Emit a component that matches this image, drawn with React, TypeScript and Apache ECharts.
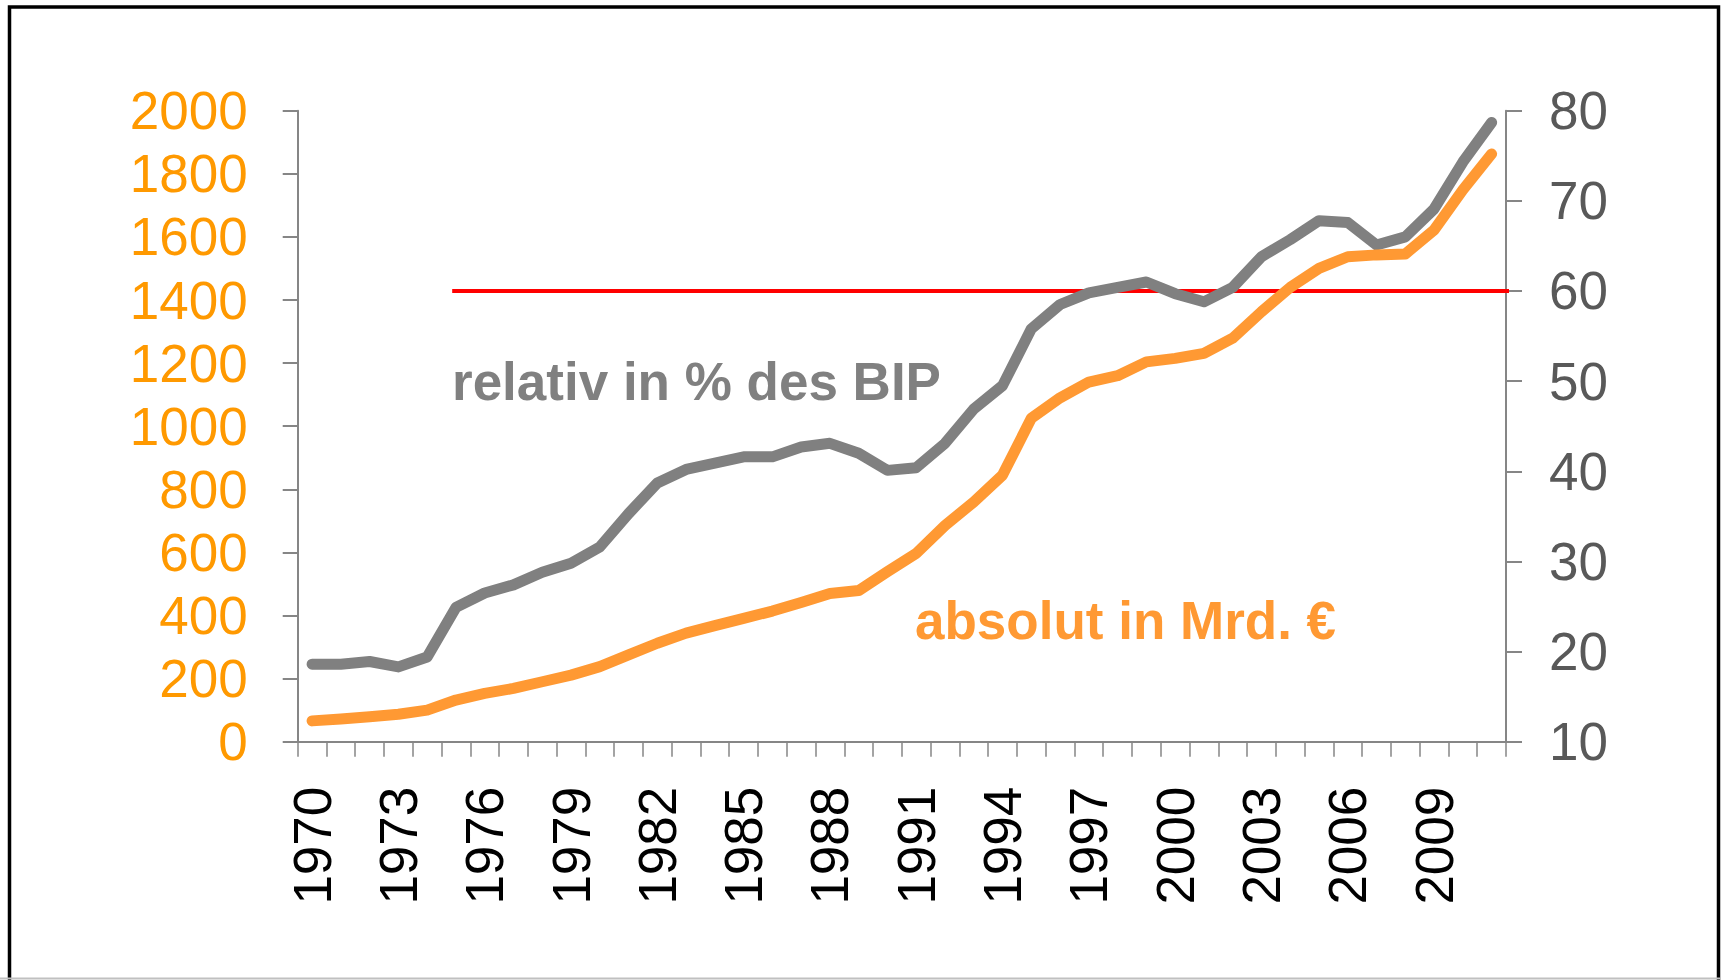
import React, { useEffect, useRef } from "react";
import * as echarts from "echarts";

const years: string[] = [];
for (let y = 1970; y <= 2011; y++) years.push(String(y));

const relativeValues = [
  18.6, 18.6, 18.9, 18.3, 19.4, 24.9, 26.5, 27.4, 28.8, 29.8, 31.6, 35.3, 38.7, 40.2,
  40.9, 41.6, 41.6, 42.7, 43.1, 42.0, 40.1, 40.4, 43.1, 46.9, 49.5, 55.8, 58.5, 59.8,
  60.4, 61.0, 59.7, 58.8, 60.4, 63.8, 65.7, 67.8, 67.6, 65.1, 66.0, 69.1, 74.3, 78.7,
];

const absoluteValues = [
  66, 72, 79, 87, 100, 132, 153, 169, 190, 211, 238, 275, 312, 344, 368, 391, 414,
  441, 470, 479, 539, 597, 685, 760, 845, 1025, 1090, 1140, 1160, 1204, 1215, 1231,
  1279, 1363, 1440, 1500, 1537, 1543, 1546, 1622, 1749, 1863,
];

// Reference line (60 % threshold), x given in category-slot units
const refLine = [
  [5.37, 60],
  [42.14, 60],
];

const leftTicks = { min: 0, max: 2000, interval: 200 };
const rightTicks = { min: 10, max: 80, interval: 10 };

const FONT = "'Liberation Sans', Arial, sans-serif";
const AXIS_GRAY = "#868686";

export default function App() {
  const ref = useRef<HTMLDivElement>(null);

  useEffect(() => {
    if (!ref.current) return;
    const chart = echarts.init(ref.current, null, { renderer: "svg" });
    chart.setOption({
      animation: false,
      backgroundColor: "#ffffff",
      grid: { left: 297.7, right: 215, top: 110.7, bottom: 238.3, containLabel: false },
      xAxis: [
        {
          type: "category",
          data: years,
          boundaryGap: true,
          axisLine: { show: true, lineStyle: { color: AXIS_GRAY, width: 2 } },
          axisTick: { show: true, interval: 0, length: 15, lineStyle: { color: AXIS_GRAY, width: 1.5 } },
          axisLabel: {
            interval: 2,
            rotate: 90,
            margin: 45,
            color: "#000000",
            fontSize: 53,
            fontFamily: FONT,
          },
          splitLine: { show: false },
        },
        {
          type: "value",
          min: 0,
          max: 42,
          show: false,
        },
      ],
      yAxis: [
        {
          type: "value",
          position: "left",
          min: leftTicks.min,
          max: leftTicks.max,
          interval: leftTicks.interval,
          axisLine: { show: true, lineStyle: { color: AXIS_GRAY, width: 2 } },
          axisTick: { show: true, length: 15, lineStyle: { color: AXIS_GRAY, width: 2 } },
          axisLabel: {
            color: "#FF9900",
            fontSize: 53,
            fontFamily: FONT,
            margin: 50,
            formatter: (v: number) => String(v),
          },
          splitLine: { show: false },
        },
        {
          type: "value",
          position: "right",
          min: rightTicks.min,
          max: rightTicks.max,
          interval: rightTicks.interval,
          axisLine: { show: true, lineStyle: { color: AXIS_GRAY, width: 2 } },
          axisTick: { show: true, length: 16, lineStyle: { color: AXIS_GRAY, width: 2 } },
          axisLabel: {
            color: "#595959",
            fontSize: 53,
            fontFamily: FONT,
            margin: 43,
            formatter: (v: number) => String(v),
          },
          splitLine: { show: false },
        },
      ],
      series: [
        {
          name: "60%",
          type: "line",
          xAxisIndex: 1,
          yAxisIndex: 1,
          data: refLine,
          symbol: "none",
          clip: false,
          lineStyle: { color: "#FF0000", width: 4 },
          z: 1,
        },
        {
          name: "relativ in % des BIP",
          type: "line",
          xAxisIndex: 0,
          yAxisIndex: 1,
          data: relativeValues,
          symbol: "none",
          lineStyle: { color: "#808080", width: 11, cap: "round", join: "round" },
          z: 2,
        },
        {
          name: "absolut in Mrd. €",
          type: "line",
          xAxisIndex: 0,
          yAxisIndex: 0,
          data: absoluteValues,
          symbol: "none",
          lineStyle: { color: "#FF9933", width: 11, cap: "round", join: "round" },
          z: 3,
        },
      ],
      graphic: [
        {
          type: "rect",
          shape: { x: 9.5, y: 7, width: 1709, height: 1000 },
          style: { fill: "none", stroke: "#000000", lineWidth: 3.5 },
          silent: true,
        },
        {
          type: "line",
          shape: { x1: 0, y1: 978.5, x2: 1721, y2: 978.5 },
          style: { stroke: "#c0c0c0", lineWidth: 2 },
          silent: true,
        },
        {
          type: "text",
          x: 452,
          y: 381,
          style: {
            text: "relativ in % des BIP",
            fill: "#808080",
            font: `bold 53px ${FONT}`,
            verticalAlign: "middle",
            align: "left",
          },
        },
        {
          type: "text",
          x: 915,
          y: 620,
          style: {
            text: "absolut in Mrd. €",
            fill: "#FF9933",
            font: `bold 53px ${FONT}`,
            verticalAlign: "middle",
            align: "left",
          },
        },
      ],
    });
    return () => chart.dispose();
  }, []);

  return (
    <div
      ref={ref}
      style={{ position: "absolute", left: 0, top: 0, width: 1721, height: 980 }}
    />
  );
}
